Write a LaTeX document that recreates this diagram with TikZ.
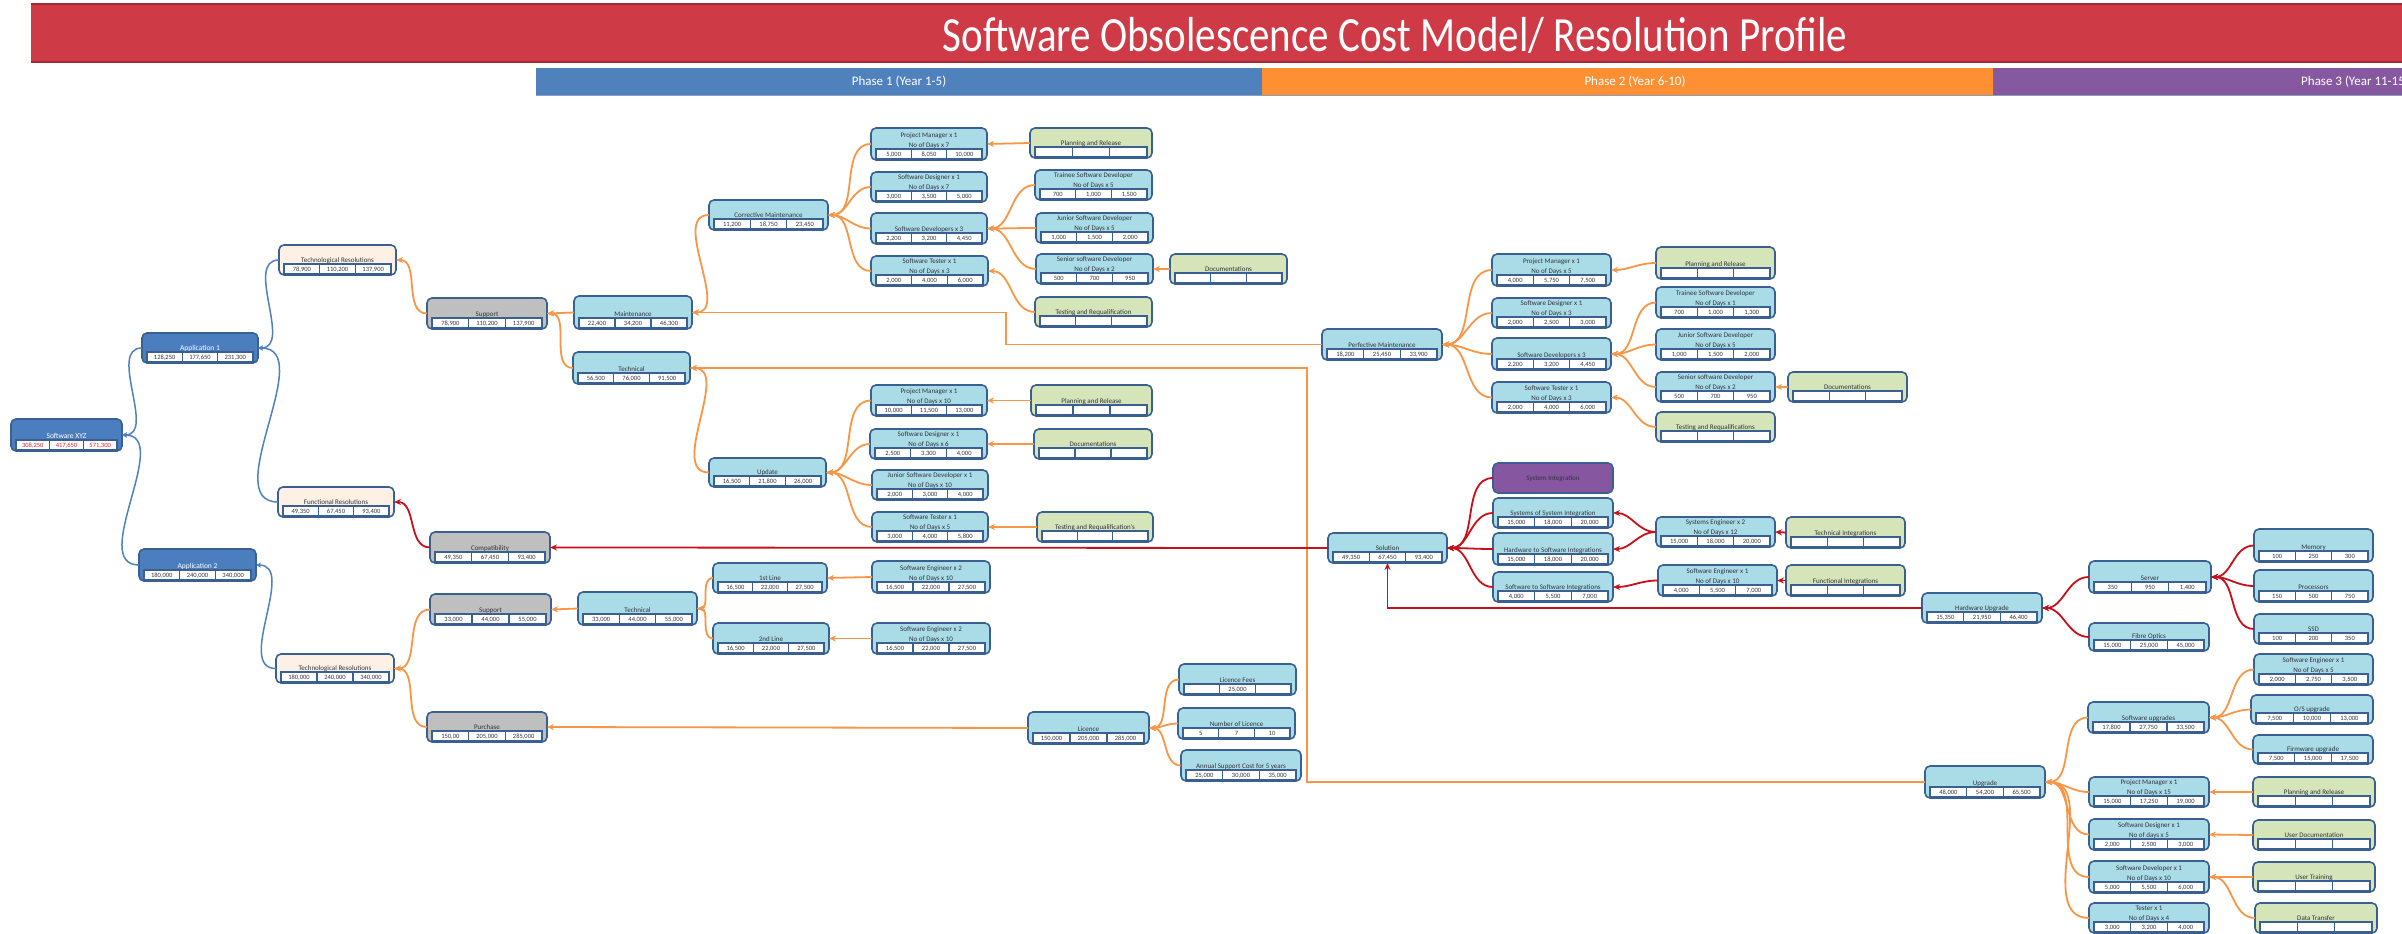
\documentclass[tikz,border=0pt]{standalone}
\usepackage{graphicx}
\usepackage{fontspec}
\setmainfont{Carlito}
\usetikzlibrary{calc,arrows.meta}
\definecolor{titlered}{RGB}{206,58,70}
\definecolor{titleredd}{RGB}{165,42,52}
\definecolor{ph1}{RGB}{79,129,189}
\definecolor{ph2}{RGB}{255,143,51}
\definecolor{ph3}{RGB}{134,88,160}
\definecolor{bord}{RGB}{58,95,145}
\definecolor{appblue}{RGB}{74,126,191}
\definecolor{peach}{RGB}{253,241,230}
\definecolor{grayf}{RGB}{191,191,191}
\definecolor{lblue}{RGB}{170,220,231}
\definecolor{lgreen}{RGB}{214,228,185}
\definecolor{purp}{RGB}{134,86,160}
\definecolor{oline}{RGB}{247,150,70}
\definecolor{rline}{RGB}{200,16,26}
\definecolor{bline}{RGB}{79,129,189}
\definecolor{txt}{RGB}{50,50,60}
\definecolor{redtxt}{RGB}{230,30,40}

\newcommand\mkbox[6]{\node[box,#2,minimum width={#5-#3},minimum height={#6-#4}] (#1) at ({(#3+#5)/2},{(#4+#6)/2}) {};}
\newcommand\mklab[4][]{%
  \if\relax\detokenize{#4}\relax
    \node[lbl,#1] (#2-l1) at ($(#2.south)+(0,-15)$) {#3};
  \else
    \node[lbl,#1] (#2-l1) at ($(#2.south)+(0,-25)$) {#3};
    \node[lbl,#1] (#2-l2) at ($(#2.south)+(0,-15)$) {#4};
  \fi}
\newcommand\mkcells[5][]{%
  \coordinate (#2-a) at ($(#2.south west)+(5,-1)$);
  \coordinate (#2-b) at ($(#2.south east)+(-5,-11)$);
  \coordinate (#2-u2) at ($(#2.south east)+(-5,-1)$);
  \coordinate (#2-t1) at ($(#2.south west)+(5,-11)$);
  \coordinate (#2-m1) at ($(#2.south west)+(5,-6)$);
  \coordinate (#2-m2) at ($(#2.south east)+(-5,-6)$);
  \draw[cellrow] (#2-a) rectangle (#2-b);
  \draw[celldiv] ($(#2-a)!1/3!(#2-u2)$) -- ($(#2-t1)!1/3!(#2-b)$);
  \draw[celldiv] ($(#2-a)!2/3!(#2-u2)$) -- ($(#2-t1)!2/3!(#2-b)$);
  \node[celltxt,#1] (#2-c1) at ($(#2-m1)!1/6!(#2-m2)$) {#3};
  \node[celltxt,#1] (#2-c2) at ($(#2-m1)!1/2!(#2-m2)$) {#4};
  \node[celltxt,#1] (#2-c3) at ($(#2-m1)!5/6!(#2-m2)$) {#5};}

\begin{document}
\begin{tikzpicture}[x=1pt,y=-1pt,
  box/.style={draw=bord,line width=1.6pt,rounded corners=5pt,inner sep=0pt,outer sep=0pt},
  lbl/.style={font=\fontsize{7}{8}\selectfont,text=txt,inner sep=0pt,text height=4.6pt,text depth=0pt},
  wlbl/.style={text=white,font=\fontsize{7.5}{9}\selectfont},
  cellrow/.style={draw=bord,fill=white,line width=1.3pt},
  celldiv/.style={draw=bord,line width=1.1pt},
  celltxt/.style={font=\fontsize{6.5}{7}\selectfont,text=txt,inner sep=0pt,text height=4.3pt,text depth=0pt},
  ocon/.style={draw=oline,line width=1.8pt,-{Stealth[length=7pt,width=6pt]}},
  rcon/.style={draw=rline,line width=1.8pt,-{Stealth[length=7pt,width=6pt]}},
  bcon/.style={draw=bline,line width=1.5pt,-{Stealth[length=5pt,width=5pt]}},
  phtxt/.style={text=white,font=\fontsize{13}{14}\selectfont,inner sep=0pt}]
\path[use as bounding box] (0,0) rectangle (2402,934);
\clip (0,0) rectangle (2402,934);
\fill[white] (0,0) rectangle (2402,934);

% title and phases
\fill[titlered] (31,4) rectangle (2402,63);
\draw[titleredd,line width=1.5pt] (31,4) -- (2402,4);
\draw[titleredd,line width=2pt] (31,62) -- (2402,62);
\node[text=white,font=\fontsize{41}{44}\selectfont,inner sep=0pt] (title) at (1395,35) {\scalebox{1}[1.2]{Software Obsolescence Cost Model/ Resolution Profile}};
\fill[ph1] (536,68) rectangle (1262,95);
\fill[ph2] (1262,68) rectangle (1993,95);
\fill[ph3] (1993,68) rectangle (2402,95);
\draw[bord!60,line width=1pt] (536,95.5) -- (2402,95.5);
\node[phtxt] (p1) at (899,81.5) {Phase 1 (Year 1-5)};
\node[phtxt] (p2) at (1635,81.5) {Phase 2 (Year 6-10)};
\node[phtxt,anchor=west] (p3) at (2301,81.5) {Phase 3 (Year 11-15)};

% ---------- boxes ----------
\mkbox{sw}{fill=appblue}{11}{419}{122}{451}
\mklab[wlbl]{sw}{Software XYZ}{}
\mkcells[text=redtxt]{sw}{308,250}{417,650}{571,300}
\mkbox{app1}{fill=appblue}{142}{333}{258}{363}
\mklab[wlbl]{app1}{Application 1}{}
\mkcells{app1}{128,250}{177,650}{231,300}
\mkbox{app2}{fill=appblue}{139}{549}{256}{581}
\mklab[wlbl]{app2}{Application 2}{}
\mkcells{app2}{180,000}{240,000}{340,000}

\mkbox{tr1}{fill=peach}{279}{245}{396}{275}
\mklab{tr1}{Technological Resolutions}{}
\mkcells{tr1}{78,900}{110,200}{137,900}
\mkbox{fr}{fill=peach}{278}{487}{394}{517}
\mklab{fr}{Functional Resolutions}{}
\mkcells{fr}{49,350}{67,450}{93,400}
\mkbox{tr2}{fill=peach}{276}{654}{394}{683}
\mklab{tr2}{Technological Resolutions}{}
\mkcells{tr2}{180,000}{240,000}{340,000}

\mkbox{sup1}{fill=grayf}{427}{298}{547}{329}
\mklab{sup1}{Support}{}
\mkcells{sup1}{78,900}{110,200}{137,900}
\mkbox{compat}{fill=grayf}{430}{532}{550}{563}
\mklab{compat}{Compatibility}{}
\mkcells{compat}{49,350}{67,450}{93,400}
\mkbox{sup2}{fill=grayf}{430}{594}{551}{625}
\mklab{sup2}{Support}{}
\mkcells{sup2}{33,000}{44,000}{55,000}
\mkbox{purch}{fill=grayf}{427}{712}{547}{742}
\mklab{purch}{Purchase}{}
\mkcells{purch}{150,00}{205,000}{285,000}

\mkbox{maint}{fill=lblue}{574}{296}{692}{329}
\mklab{maint}{Maintenance}{}
\mkcells{maint}{22,400}{34,200}{46,300}
\mkbox{tech1}{fill=lblue}{573}{352}{690}{384}
\mklab{tech1}{Technical}{}
\mkcells{tech1}{56,500}{76,000}{91,500}
\mkbox{corr}{fill=lblue}{709}{200}{828}{230}
\mklab{corr}{Corrective Maintenance}{}
\mkcells{corr}{11,200}{18,750}{23,450}
\mkbox{pm1}{fill=lblue}{871}{128}{987}{160}
\mklab{pm1}{Project Manager x 1}{No of Days x 7}
\mkcells{pm1}{5,000}{8,050}{10,000}
\mkbox{sd1}{fill=lblue}{871}{172}{987}{202}
\mklab{sd1}{Software Designer x 1}{No of Days x 7}
\mkcells{sd1}{3,000}{3,500}{5,000}
\mkbox{sdev1}{fill=lblue}{871}{213}{987}{244}
\mklab{sdev1}{Software Developers x 3}{}
\mkcells{sdev1}{2,200}{3,200}{4,450}
\mkbox{st1}{fill=lblue}{871}{256}{988}{286}
\mklab{st1}{Software Tester x 1}{No of Days x 3}
\mkcells{st1}{2,000}{4,000}{6,000}
\mkbox{plan1}{fill=lgreen}{1030}{128}{1152}{158}
\mklab{plan1}{Planning and Release}{}
\mkcells{plan1}{}{}{}
\mkbox{trainee1}{fill=lblue}{1035}{170}{1152}{200}
\mklab{trainee1}{Trainee Software Developer}{No of Days x 5}
\mkcells{trainee1}{700}{1,000}{1,500}
\mkbox{junior1}{fill=lblue}{1036}{213}{1153}{243}
\mklab{junior1}{Junior Software Developer}{No of Days x 5}
\mkcells{junior1}{1,000}{1,500}{2,000}
\mkbox{senior1}{fill=lblue}{1036}{254}{1153}{284}
\mklab{senior1}{Senior software Developer}{No of Days x 2}
\mkcells{senior1}{500}{700}{950}
\mkbox{testreq1}{fill=lgreen}{1035}{297}{1152}{327}
\mklab{testreq1}{Testing and Requalification}{}
\mkcells{testreq1}{}{}{}
\mkbox{doc1}{fill=lgreen}{1170}{254}{1287}{284}
\mklab{doc1}{Documentations}{}
\mkcells{doc1}{}{}{}

\mkbox{upd}{fill=lblue}{709}{458}{826}{487}
\mklab{upd}{Update}{}
\mkcells{upd}{16,500}{21,800}{26,000}
\mkbox{pm2}{fill=lblue}{871}{385}{987}{416}
\mklab{pm2}{Project Manager x 1}{No of Days x 10}
\mkcells{pm2}{10,000}{11,500}{13,000}
\mkbox{sd2}{fill=lblue}{870}{429}{987}{459}
\mklab{sd2}{Software Designer x 1}{No of Days x 6}
\mkcells{sd2}{2,500}{3,300}{4,000}
\mkbox{jsd2}{fill=lblue}{872}{470}{988}{500}
\mklab{jsd2}{Junior Software Developer x 1}{No of Days x 10}
\mkcells{jsd2}{2,000}{3,000}{4,000}
\mkbox{st2}{fill=lblue}{872}{512}{988}{542}
\mklab{st2}{Software Tester x 1}{No of Days x 5}
\mkcells{st2}{3,000}{4,000}{5,800}
\mkbox{plan2}{fill=lgreen}{1031}{385}{1152}{416}
\mklab{plan2}{Planning and Release}{}
\mkcells{plan2}{}{}{}
\mkbox{doc2}{fill=lgreen}{1034}{429}{1152}{459}
\mklab{doc2}{Documentations}{}
\mkcells{doc2}{}{}{}
\mkbox{testreq2}{fill=lgreen}{1037}{512}{1153}{542}
\mklab{testreq2}{Testing and Requalification's}{}
\mkcells{testreq2}{}{}{}

\mkbox{tech2}{fill=lblue}{578}{592}{697}{625}
\mklab{tech2}{Technical}{}
\mkcells{tech2}{33,000}{44,000}{55,000}
\mkbox{line1}{fill=lblue}{713}{563}{827}{593}
\mklab{line1}{1st Line}{}
\mkcells{line1}{16,500}{22,000}{27,500}
\mkbox{line2}{fill=lblue}{713}{623}{829}{654}
\mklab{line2}{2nd Line}{}
\mkcells{line2}{16,500}{22,000}{27,500}
\mkbox{se1}{fill=lblue}{872}{561}{990}{593}
\mklab{se1}{Software Engineer x 2}{No of Days x 10}
\mkcells{se1}{16,500}{22,000}{27,500}
\mkbox{se2}{fill=lblue}{872}{623}{990}{654}
\mklab{se2}{Software Engineer x 2}{No of Days x 10}
\mkcells{se2}{16,500}{22,000}{27,500}

\mkbox{lic}{fill=lblue}{1028}{712}{1149}{744}
\mklab{lic}{Licence}{}
\mkcells{lic}{150,000}{205,000}{285,000}
\mkbox{licfee}{fill=lblue}{1179}{664}{1296}{695}
\mklab{licfee}{Licence Fees}{}
\mkcells{licfee}{}{25,000}{}
\mkbox{nlic}{fill=lblue}{1178}{708}{1295}{739}
\mklab{nlic}{Number of Licence}{}
\mkcells{nlic}{5}{7}{10}
\mkbox{annual}{fill=lblue}{1181}{750}{1301}{781}
\mklab{annual}{Annual Support Cost for 5 years}{}
\mkcells{annual}{25,000}{30,000}{35,000}

\mkbox{perf}{fill=lblue}{1322}{329}{1442}{360}
\mklab{perf}{Perfective Maintenance}{}
\mkcells{perf}{18,200}{25,450}{33,900}
\mkbox{pm3}{fill=lblue}{1492}{254}{1611}{286}
\mklab{pm3}{Project Manager x 1}{No of Days x 5}
\mkcells{pm3}{4,000}{5,750}{7,500}
\mkbox{sd3}{fill=lblue}{1492}{298}{1611}{328}
\mklab{sd3}{Software Designer x 1}{No of Days x 3}
\mkcells{sd3}{2,000}{2,500}{3,000}
\mkbox{sdev3}{fill=lblue}{1492}{338}{1611}{370}
\mklab{sdev3}{Software Developers x 3}{}
\mkcells{sdev3}{2,200}{3,200}{4,450}
\mkbox{st3}{fill=lblue}{1492}{382}{1611}{413}
\mklab{st3}{Software Tester x 1}{No of Days x 3}
\mkcells{st3}{2,000}{4,000}{6,000}
\mkbox{plan3}{fill=lgreen}{1656}{247}{1775}{279}
\mklab{plan3}{Planning and Release}{}
\mkcells{plan3}{}{}{}
\mkbox{trainee3}{fill=lblue}{1656}{287}{1775}{318}
\mklab{trainee3}{Trainee Software Developer}{No of Days x 1}
\mkcells{trainee3}{700}{1,000}{1,300}
\mkbox{junior3}{fill=lblue}{1656}{329}{1775}{360}
\mklab{junior3}{Junior Software Developer}{No of Days x 5}
\mkcells{junior3}{1,000}{1,500}{2,000}
\mkbox{senior3}{fill=lblue}{1656}{372}{1775}{402}
\mklab{senior3}{Senior software Developer}{No of Days x 2}
\mkcells{senior3}{500}{700}{950}
\mkbox{testreq3}{fill=lgreen}{1656}{412}{1775}{442}
\mklab{testreq3}{Testing and Requalifications}{}
\mkcells{testreq3}{}{}{}
\mkbox{doc3}{fill=lgreen}{1788}{372}{1907}{402}
\mklab{doc3}{Documentations}{}
\mkcells{doc3}{}{}{}

\mkbox{sol}{fill=lblue}{1328}{533}{1447}{563}
\mklab{sol}{Solution}{}
\mkcells{sol}{49,350}{67,450}{93,400}
\mkbox{sysint}{fill=purp}{1493}{463}{1613}{493}
\node[lbl] (sysint-l1) at (sysint.center) {System Integration};
\mkbox{sosi}{fill=lblue}{1493}{498}{1613}{528}
\mklab{sosi}{Systems of System Integration}{}
\mkcells{sosi}{15,000}{18,000}{20,000}
\mkbox{hsi}{fill=lblue}{1493}{533}{1613}{565}
\mklab{hsi}{Hardware to Software Integrations}{}
\mkcells{hsi}{15,000}{18,000}{20,000}
\mkbox{ssi}{fill=lblue}{1493}{572}{1613}{602}
\mklab{ssi}{Software to Software Integrations}{}
\mkcells{ssi}{4,000}{5,500}{7,000}
\mkbox{syseng}{fill=lblue}{1656}{517}{1775}{547}
\mklab{syseng}{Systems Engineer x 2}{No of Days x 12}
\mkcells{syseng}{15,000}{18,000}{20,000}
\mkbox{sweng}{fill=lblue}{1658}{565}{1777}{596}
\mklab{sweng}{Software Engineer x 1}{No of Days x 10}
\mkcells{sweng}{4,000}{5,500}{7,000}
\mkbox{techint}{fill=lgreen}{1786}{517}{1905}{548}
\mklab{techint}{Technical Integrations}{}
\mkcells{techint}{}{}{}
\mkbox{funcint}{fill=lgreen}{1786}{565}{1905}{596}
\mklab{funcint}{Functional Integrations}{}
\mkcells{funcint}{}{}{}

\mkbox{hw}{fill=lblue}{1922}{593}{2042}{623}
\mklab{hw}{Hardware Upgrade}{}
\mkcells{hw}{15,350}{21,950}{46,400}
\mkbox{server}{fill=lblue}{2089}{561}{2211}{593}
\mklab{server}{Server}{}
\mkcells{server}{350}{950}{1,400}
\mkbox{fibre}{fill=lblue}{2089}{623}{2209}{651}
\mklab{fibre}{Fibre Optics}{}
\mkcells{fibre}{15,000}{25,000}{45,000}
\mkbox{mem}{fill=lblue}{2254}{529}{2373}{562}
\mklab{mem}{Memory}{}
\mkcells{mem}{100}{250}{300}
\mkbox{proc}{fill=lblue}{2254}{570}{2373}{602}
\mklab{proc}{Processors}{}
\mkcells{proc}{150}{500}{750}
\mkbox{ssd}{fill=lblue}{2254}{614}{2373}{644}
\mklab{ssd}{SSD}{}
\mkcells{ssd}{100}{200}{350}
\mkbox{sweng5}{fill=lblue}{2254}{654}{2373}{685}
\mklab{sweng5}{Software Engineer x 1}{No of Days x 5}
\mkcells{sweng5}{2,000}{2,750}{3,500}

\mkbox{upg}{fill=lblue}{1925}{766}{2045}{798}
\mklab{upg}{Upgrade}{}
\mkcells{upg}{48,000}{54,200}{65,500}
\mkbox{swupg}{fill=lblue}{2088}{702}{2209}{733}
\mklab{swupg}{Software upgrades}{}
\mkcells{swupg}{17,800}{27,750}{33,500}
\mkbox{osupg}{fill=lblue}{2251}{695}{2373}{724}
\mklab{osupg}{O/S upgrade}{}
\mkcells{osupg}{7,500}{10,000}{13,000}
\mkbox{fwupg}{fill=lblue}{2253}{735}{2373}{764}
\mklab{fwupg}{Firmware upgrade}{}
\mkcells{fwupg}{7,500}{15,000}{17,500}
\mkbox{pm4}{fill=lblue}{2089}{777}{2209}{807}
\mklab{pm4}{Project Manager x 1}{No of Days x 15}
\mkcells{pm4}{15,000}{17,250}{19,000}
\mkbox{sd4}{fill=lblue}{2089}{819}{2209}{850}
\mklab{sd4}{Software Designer x 1}{No of days x 5}
\mkcells{sd4}{2,000}{2,500}{3,000}
\mkbox{sdev4}{fill=lblue}{2089}{861}{2209}{893}
\mklab{sdev4}{Software Developer x 1}{No of Days x 10}
\mkcells{sdev4}{5,000}{5,500}{6,000}
\mkbox{tester4}{fill=lblue}{2089}{903}{2209}{933}
\mklab{tester4}{Tester x 1}{No of Days x 4}
\mkcells{tester4}{3,000}{3,200}{4,000}
\mkbox{plan4}{fill=lgreen}{2253}{777}{2375}{807}
\mklab{plan4}{Planning and Release}{}
\mkcells{plan4}{}{}{}
\mkbox{userdoc}{fill=lgreen}{2253}{820}{2375}{850}
\mklab{userdoc}{User Documentation}{}
\mkcells{userdoc}{}{}{}
\mkbox{usertrain}{fill=lgreen}{2253}{862}{2375}{892}
\mklab{usertrain}{User Training}{}
\mkcells{usertrain}{}{}{}
\mkbox{datatr}{fill=lgreen}{2255}{903}{2377}{933}
\mklab{datatr}{Data Transfer}{}
\mkcells{datatr}{}{}{}

% ---------- connectors ----------
\coordinate (pb) at (1006,0);
\coordinate (tb) at (1307,0);
% blue
\foreach \c in {app1,app2} \draw[bcon] (\c.west) to[out=180,in=0] (sw.east);
\foreach \c in {tr1,fr} \draw[bcon] (\c.west) to[out=180,in=0] (app1.east);
\draw[bcon] (tr2.west) to[out=180,in=0] (app2.east);
% orange
\draw[ocon] (sup1.west) to[out=180,in=0] (tr1.east);
\draw[ocon] (maint.west) -- (sup1.east);
\draw[ocon] (tech1.west) to[out=180,in=0] (sup1.east);
\draw[ocon] (corr.west) to[out=180,in=0] (maint.east);
\draw[ocon] (perf.west) -- (perf.west -| pb) |- (maint.east);
\foreach \c in {pm1,sd1,sdev1,st1} \draw[ocon] (\c.west) to[out=180,in=0] (corr.east);
\draw[ocon] (plan1.west) -- (pm1.east);
\foreach \c in {trainee1,junior1,senior1} \draw[ocon] (\c.west) to[out=180,in=0] (sdev1.east);
\draw[ocon] (doc1.west) -- (senior1.east);
\draw[ocon] (testreq1.west) to[out=180,in=0] (st1.east);
\draw[ocon] (upd.west) to[out=180,in=0] (tech1.east);
\draw[ocon] (upg.west) -- (upg.west -| tb) |- (tech1.east);
\foreach \c in {pm2,sd2,jsd2,st2} \draw[ocon] (\c.west) to[out=180,in=0] (upd.east);
\draw[ocon] (plan2.west) -- (pm2.east);
\draw[ocon] (doc2.west) -- (sd2.east);
\draw[ocon] (testreq2.west) -- (st2.east);
\foreach \c in {sup2,purch} \draw[ocon] (\c.west) to[out=180,in=0] (tr2.east);
\draw[ocon] (tech2.west) -- (sup2.east);
\foreach \c in {line1,line2} \draw[ocon] (\c.west) to[out=180,in=0] (tech2.east);
\draw[ocon] (se1.west) -- (line1.east);
\draw[ocon] (se2.west) -- (line2.east);
\draw[ocon] (lic.west) -- (purch.east);
\foreach \c in {licfee,nlic,annual} \draw[ocon] (\c.west) to[out=180,in=0] (lic.east);
\foreach \c in {pm3,sd3,sdev3,st3} \draw[ocon] (\c.west) to[out=180,in=0] (perf.east);
\draw[ocon] (plan3.west) to[out=180,in=0] (pm3.east);
\foreach \c in {trainee3,junior3,senior3} \draw[ocon] (\c.west) to[out=180,in=0] (sdev3.east);
\draw[ocon] (doc3.west) -- (senior3.east);
\draw[ocon] (testreq3.west) to[out=180,in=0] (st3.east);
\foreach \c in {swupg,pm4,sd4,sdev4,tester4} \draw[ocon] (\c.west) to[out=180,in=0] (upg.east);
\foreach \c in {sweng5,osupg,fwupg} \draw[ocon] (\c.west) to[out=180,in=0] (swupg.east);
\draw[ocon] (plan4.west) -- (pm4.east);
\draw[ocon] (userdoc.west) -- (sd4.east);
\draw[ocon] (usertrain.west) -- (sdev4.east);
\draw[ocon] (datatr.west) to[out=180,in=0] (sdev4.east);
% red
\draw[rcon] (compat.west) to[out=180,in=0] (fr.east);
\draw[rcon] (sol.west) -- (compat.east);
\foreach \c in {sysint,sosi,hsi,ssi} \draw[rcon] (\c.west) to[out=180,in=0] (sol.east);
\foreach \c in {sosi,hsi} \draw[rcon] (syseng.west) to[out=180,in=0] (\c.east);
\draw[rcon] (sweng.west) to[out=180,in=0] (ssi.east);
\draw[rcon] (techint.west) -- (syseng.east);
\draw[rcon] (funcint.west) -- (sweng.east);
\draw[rcon] (hw.west) -| (sol.south);
\foreach \c in {server,fibre} \draw[rcon] (\c.west) to[out=180,in=0] (hw.east);
\foreach \c in {mem,proc,ssd} \draw[rcon] (\c.west) to[out=180,in=0] (server.east);
\end{tikzpicture}
\end{document}
